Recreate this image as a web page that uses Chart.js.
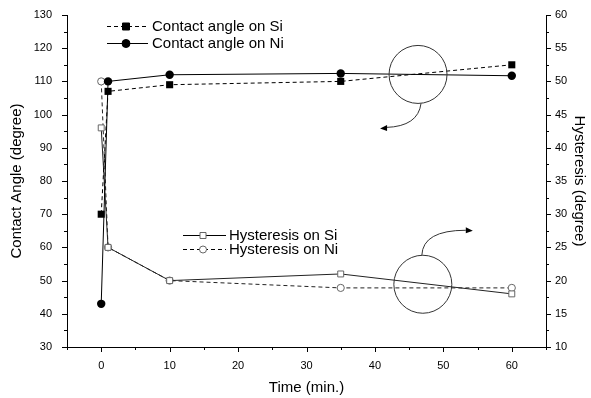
<!DOCTYPE html>
<html>
<head>
<meta charset="utf-8">
<script src="https://cdn.jsdelivr.net/npm/chart.js@4.4.1/dist/chart.umd.min.js"></script>
<style>
  html, body { margin: 0; padding: 0; background: #fff; }
  #wrap { width: 591px; height: 398px; }
</style>
</head>
<body>
<div id="wrap"><canvas id="grafico" width="591" height="398"></canvas></div>
<script>
// dados
const tempoMin = [0, 1, 10, 35, 60];
const anguloSi = [70, 107, 109, 110, 115];
const anguloNi = [43, 110, 112, 112.4, 111.7];
const histereseSi = [43, 25, 20, 21, 18];
const histereseNi = [50, 25, 20, 18.9, 18.9];
const ticksTempo = [0, 10, 20, 30, 40, 50, 60];

const FONTE = '"Liberation Sans", Arial, sans-serif';

function pontos(ys) {
    return tempoMin.map((t, i) => ({ x: t, y: ys[i] }));
}

// desenha um marcador (quadrado ou círculo) no ponto
function marcador(ctx, tipo, x, y, cheio) {
    ctx.save();
    ctx.setLineDash([]);
    ctx.lineWidth = 1;
    ctx.fillStyle = cheio ? '#000' : '#fff';
    ctx.strokeStyle = cheio ? '#000' : '#666';
    ctx.beginPath();
    if (tipo === 'rect') {
        const s = cheio ? 3.5 : 3;
        ctx.rect(x - s, y - s, 2 * s, 2 * s);
    } else {
        ctx.arc(x, y, cheio ? 4 : 3.5, 0, Math.PI * 2);
    }
    ctx.fill();
    ctx.stroke();
    ctx.restore();
}

// ticks maiores e menores desenhados à mão
const ticksPlugin = {
    id: 'ticksManuais',
    afterDraw(chart) {
        const ctx = chart.ctx;
        const a = chart.chartArea;
        const sx = chart.scales.x, sy = chart.scales.y, sy2 = chart.scales.y2;
        ctx.save();
        ctx.strokeStyle = '#000';
        ctx.lineWidth = 1;
        ctx.beginPath();
        for (let v = -5; v <= 65; v += 5) {
            const px = Math.round(sx.getPixelForValue(v)) + 0.5;
            const len = v % 10 === 0 ? 5 : 3;
            ctx.moveTo(px, a.bottom);
            ctx.lineTo(px, a.bottom + len);
        }
        for (let v = 30; v <= 130; v += 5) {
            const py = Math.round(sy.getPixelForValue(v)) + 0.5;
            const len = v % 10 === 0 ? 5 : 3;
            ctx.moveTo(a.left, py);
            ctx.lineTo(a.left - len, py);
        }
        for (let v = 10; v <= 60; v += 2.5) {
            const py = Math.round(sy2.getPixelForValue(v)) + 0.5;
            const len = v % 5 === 0 ? 5 : 3;
            ctx.moveTo(a.right, py);
            ctx.lineTo(a.right + len, py);
        }
        ctx.stroke();
        ctx.restore();
    }
};

// títulos dos eixos, legendas e anotações (círculos e setas)
const extrasPlugin = {
    id: 'extras',
    afterDraw(chart) {
        const ctx = chart.ctx;
        const a = chart.chartArea;
        const sx = chart.scales.x, sy = chart.scales.y;
        ctx.save();
        ctx.fillStyle = '#000';
        ctx.font = '15px ' + FONTE;
        ctx.textAlign = 'center';
        ctx.textBaseline = 'middle';
        ctx.fillText('Time (min.)', (a.left + a.right) / 2, 388);

        ctx.save();
        ctx.translate(17, (a.top + a.bottom) / 2);
        ctx.rotate(-Math.PI / 2);
        ctx.fillText('Contact Angle (degree)', 0, 0);
        ctx.restore();

        ctx.save();
        ctx.translate(579, (a.top + a.bottom) / 2);
        ctx.rotate(Math.PI / 2);
        ctx.fillText('Hysteresis (degree)', 0, 0);
        ctx.restore();

        // legendas
        const legendas = [
            { x1: 107, x2: 148, mx: 126, tx: 152, y: 26, tracejado: true, tipo: 'rect', cheio: true, texto: 'Contact angle on Si' },
            { x1: 107, x2: 148, mx: 126, tx: 152, y: 43, tracejado: false, tipo: 'circle', cheio: true, texto: 'Contact angle on Ni' },
            { x1: 183, x2: 226, mx: 203, tx: 229, y: 235, tracejado: false, tipo: 'rect', cheio: false, texto: 'Hysteresis on Si' },
            { x1: 183, x2: 226, mx: 203, tx: 229, y: 249, tracejado: true, tipo: 'circle', cheio: false, texto: 'Hysteresis on Ni' }
        ];
        legendas.forEach(l => {
            ctx.save();
            ctx.strokeStyle = '#000';
            ctx.lineWidth = 1;
            ctx.setLineDash(l.tracejado ? [4, 3] : []);
            ctx.beginPath();
            ctx.moveTo(l.x1, l.y + 0.5);
            ctx.lineTo(l.x2, l.y + 0.5);
            ctx.stroke();
            ctx.restore();
            marcador(ctx, l.tipo, l.mx, l.y + 0.5, l.cheio);
            ctx.textAlign = 'left';
            ctx.fillText(l.texto, l.tx, l.y + 1);
        });

        // anotações
        ctx.strokeStyle = '#333';
        ctx.fillStyle = '#000';
        ctx.lineWidth = 1;
        ctx.setLineDash([]);
        const c1 = { x: sx.getPixelForValue(46.3), y: sy.getPixelForValue(112.1) };
        const c2 = { x: sx.getPixelForValue(47), y: sy.getPixelForValue(48.9) };
        const r = 29;
        [c1, c2].forEach(c => {
            ctx.beginPath();
            ctx.arc(c.x, c.y, r, 0, Math.PI * 2);
            ctx.stroke();
        });

        // seta 1: do círculo de cima para a esquerda (eixo esquerdo)
        ctx.beginPath();
        ctx.moveTo(c1.x + 3, c1.y + r);
        ctx.quadraticCurveTo(c1.x, c1.y + 52, c1.x - 32, c1.y + 53);
        ctx.stroke();
        ctx.beginPath();
        ctx.moveTo(c1.x - 38, c1.y + 54);
        ctx.lineTo(c1.x - 31, c1.y + 50.5);
        ctx.lineTo(c1.x - 31, c1.y + 56.5);
        ctx.closePath();
        ctx.fill();

        // seta 2: do círculo de baixo para a direita (eixo direito)
        ctx.beginPath();
        ctx.moveTo(c2.x - 1, c2.y - r);
        ctx.quadraticCurveTo(c2.x, c2.y - 54, c2.x + 43, c2.y - 54);
        ctx.stroke();
        ctx.beginPath();
        ctx.moveTo(c2.x + 50, c2.y - 53.5);
        ctx.lineTo(c2.x + 43, c2.y - 57);
        ctx.lineTo(c2.x + 43, c2.y - 51);
        ctx.closePath();
        ctx.fill();

        ctx.restore();
    }
};

const fonteTicks = { family: FONTE, size: 11 };
const semGrade = { display: false, drawTicks: false, tickLength: 0 };

// largura fixa dos eixos verticais, sem o padding extra dos rótulos
function eixoFixo(largura) {
    return s => {
        s.width = largura;
        s.paddingTop = 0;
        s.paddingBottom = 0;
    };
}

new Chart(document.getElementById('grafico').getContext('2d'), {
    type: 'line',
    data: {
        datasets: [
            {
                label: 'Contact angle on Si',
                data: pontos(anguloSi),
                yAxisID: 'y',
                borderColor: '#000',
                borderWidth: 1,
                borderDash: [4, 3],
                pointStyle: 'rect',
                pointRadius: 5,
                pointBackgroundColor: '#000',
                pointBorderColor: '#000',
                pointBorderWidth: 0
            },
            {
                label: 'Contact angle on Ni',
                data: pontos(anguloNi),
                yAxisID: 'y',
                borderColor: '#000',
                borderWidth: 1,
                pointStyle: 'circle',
                pointRadius: 4.2,
                pointBackgroundColor: '#000',
                pointBorderColor: '#000',
                pointBorderWidth: 0
            },
            {
                label: 'Hysteresis on Si',
                data: pontos(histereseSi),
                yAxisID: 'y2',
                borderColor: '#222',
                borderWidth: 1,
                pointStyle: 'rect',
                pointRadius: 4.2,
                pointBackgroundColor: '#fff',
                pointBorderColor: '#666',
                pointBorderWidth: 1
            },
            {
                label: 'Hysteresis on Ni',
                data: pontos(histereseNi),
                yAxisID: 'y2',
                borderColor: '#222',
                borderWidth: 1,
                borderDash: [4, 3],
                pointStyle: 'circle',
                pointRadius: 3.6,
                pointBackgroundColor: '#fff',
                pointBorderColor: '#666',
                pointBorderWidth: 1
            }
        ]
    },
    options: {
        responsive: false,
        animation: false,
        events: [],
        layout: { padding: { top: 15, left: 0, right: 0, bottom: 0 } },
        plugins: { legend: { display: false }, tooltip: { enabled: false } },
        scales: {
            x: {
                type: 'linear',
                min: -5,
                max: 65,
                afterBuildTicks: s => { s.ticks = ticksTempo.map(v => ({ value: v })); },
                afterFit: s => { s.height = 51; s.paddingLeft = 0; s.paddingRight = 0; },
                grid: semGrade,
                border: { display: true, color: '#000', width: 1 },
                ticks: { font: fonteTicks, color: '#000', padding: 12, maxRotation: 0 }
            },
            y: {
                position: 'left',
                min: 30,
                max: 130,
                afterFit: eixoFixo(67),
                grid: semGrade,
                border: { display: true, color: '#000', width: 1 },
                ticks: { stepSize: 10, font: fonteTicks, color: '#000', padding: 15 }
            },
            y2: {
                position: 'right',
                min: 10,
                max: 60,
                afterFit: eixoFixo(45),
                grid: semGrade,
                border: { display: true, color: '#000', width: 1 },
                ticks: { stepSize: 5, font: fonteTicks, color: '#000', padding: 9 }
            }
        }
    },
    plugins: [ticksPlugin, extrasPlugin]
});
</script>
</body>
</html>
